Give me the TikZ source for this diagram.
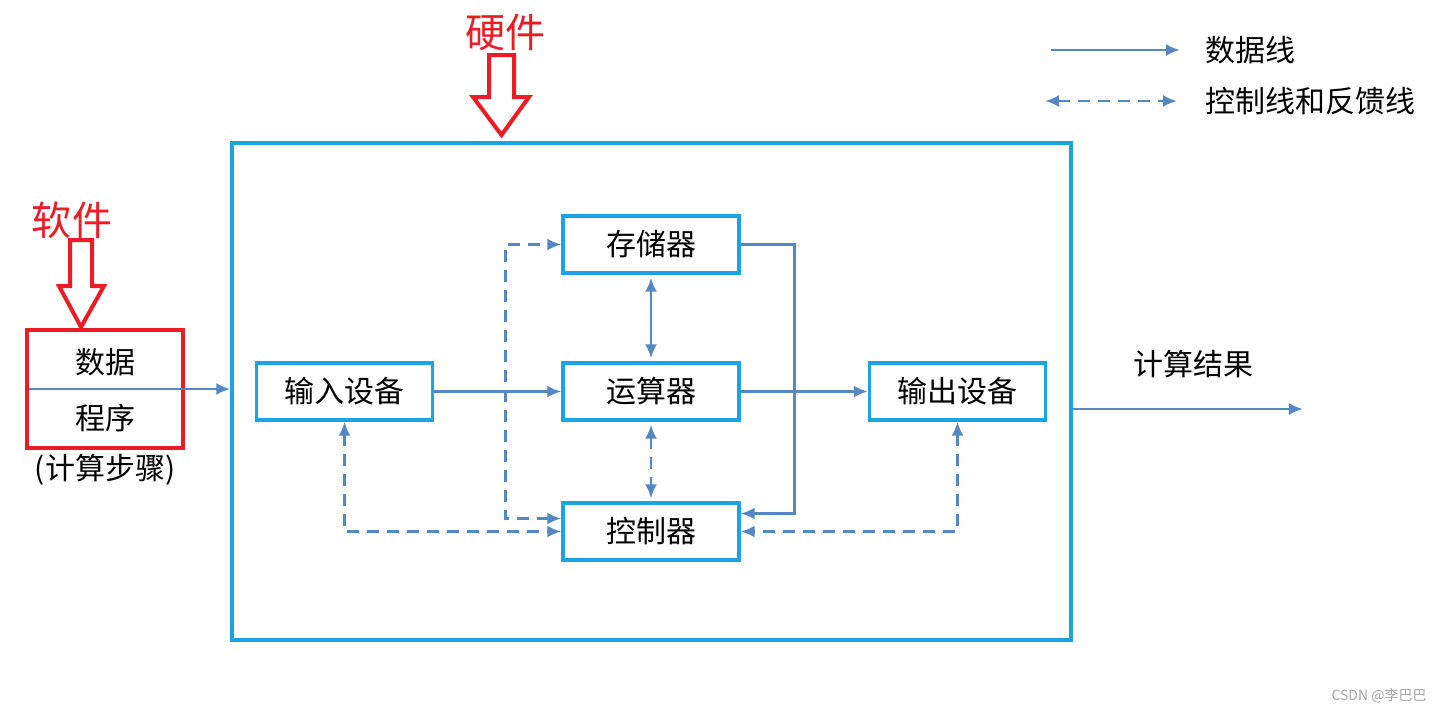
\documentclass[tikz,border=0pt]{standalone}
\usepackage{fontspec}
\setmainfont{Noto Sans CJK SC}
\usetikzlibrary{arrows.meta,positioning}
\definecolor{boxblue}{RGB}{27,163,226}
\definecolor{linkblue}{RGB}{84,136,196}
\definecolor{hintred}{RGB}{236,28,36}

\begin{document}
\begin{tikzpicture}[
        x=0.5pt, y=-0.5pt,
        >={Latex[length=7pt,width=6pt]},
        unit/.style={draw=boxblue, line width=1.7pt, minimum width=88pt, minimum height=28.5pt,
                     inner sep=0pt, font=\fontsize{15}{18}\selectfont},
        data/.style={->, linkblue, line width=1.3pt},
        ctrl/.style={<->, linkblue, line width=1.3pt, dash pattern=on 6pt off 4pt},
        lbl/.style={font=\fontsize{15}{18}\selectfont},
        redlbl/.style={hintred, font=\fontsize{20}{24}\selectfont},
        hollow/.style={draw=hintred, line width=2pt, line join=miter}]

    \useasboundingbox (0,0) rectangle (1443,714);

    % --- Hardware frame
    \node[draw=boxblue, line width=1.7pt, minimum width=419.5pt, minimum height=248.5pt] (hw) at (651.5,391.5) {};

    % --- Units
    \node[unit] (mem) at (651,244.5) {存储器};
    \node[unit] (alu) at (651,391.5) {运算器};
    \node[unit] (ctl) at (651,531.5) {控制器};
    \node[unit] (in)  at (344.5,391.5) {输入设备};
    \node[unit] (out) at (957.5,391.5) {输出设备};

    % --- Data lines
    \draw[data] (in) -- (alu);
    \draw[data] (alu) -- (out);
    \draw[data, <->, shorten <=1.5pt, shorten >=1.5pt] (mem) -- (alu);
    \draw[data] (mem.east) -- ++(27pt,0) |- ([yshift=9pt]ctl.east);

    % --- Control and feedback lines
    \draw[ctrl, shorten <=1.5pt, shorten >=1.5pt] (alu) -- (ctl);
    \draw[ctrl] ([yshift=6.5pt]ctl.west) -- ++(-28pt,0) |- (mem.west);
    \draw[ctrl] (in.south) |- (ctl.west);
    \draw[ctrl] (out.south) |- (ctl.east);

    % --- Software input
    \node[draw=hintred, line width=2pt, minimum width=78pt, minimum height=59pt] (sw) at (105,389) {};
    \node[lbl] (dat)  at (105,362) {数据};
    \node[lbl] (prog) at (105,418) {程序};
    \node[lbl] (steps) at (105,470) {(计算步骤)};
    \draw[data] ([xshift=2pt]sw.west) -- (sw.west -| hw.west);

    % --- Red hints
    \node[redlbl] (swl) at (72,220) {软件};
    \node[redlbl] (hwl) at (505,32) {硬件};
    \draw[hollow] (70,240) -- (92,240) -- (92,286) -- (104,286) -- (81,327) -- (59,286) -- (70,286) -- cycle;
    \draw[hollow] (489,55) -- (514,55) -- (514,97) -- (529,97) -- (501.5,135) -- (473,97) -- (489,97) -- cycle;

    % --- Result
    \coordinate (res) at (1303,409);
    \draw[data] (hw.east |- res) -- (res);
    \node[lbl] (resl) at (1193,364) {计算结果};

    % --- Legend
    \coordinate (k1) at (1051,50);
    \coordinate (k1e) at (1180,50);
    \coordinate (k2) at (1045,101);
    \coordinate (k2e) at (1177,101);
    \draw[data] (k1) -- (k1e);
    \draw[ctrl] (k2) -- (k2e);
    \node[lbl, anchor=west] (key1) at (1198,50) {数据线};
    \node[lbl, anchor=west] (key2) at (1198,101) {控制线和反馈线};

    % --- Watermark
    \node[gray!70, font=\fontsize{7}{8}\selectfont] (mark) at (1379,696) {CSDN @李巴巴};

    \end{tikzpicture}
\end{document}
